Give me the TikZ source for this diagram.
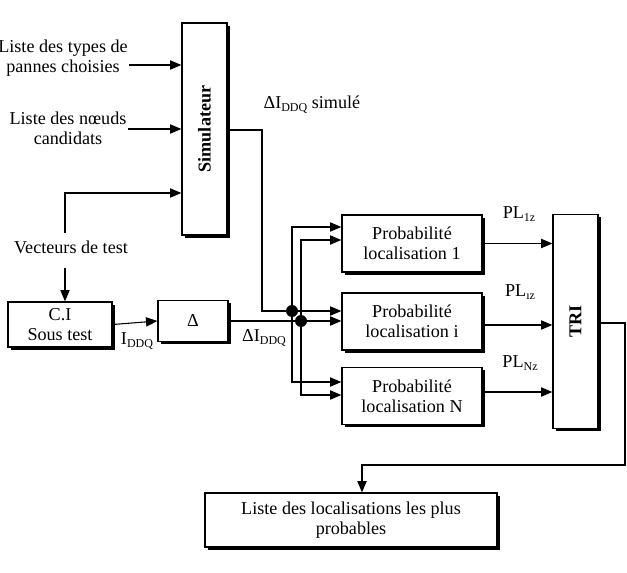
\documentclass[tikz,border=0pt]{standalone}
\usepackage{fontspec}
\setmainfont{Liberation Serif}
\usetikzlibrary{arrows.meta,shadows}
\newcommand\dsub[1]{\raisebox{-0.4ex}{\fontsize{9}{9}\selectfont #1}}
\tikzset{
  box/.style={draw,line width=1pt,fill=white,align=center,inner sep=1pt,
    drop shadow={shadow xshift=2pt,shadow yshift=-2pt,fill=black,opacity=1}},
  lbl/.style={align=center,inner sep=1pt},
  arr/.style={-{Triangle[length=8.5pt,width=7pt]}},
  wire/.style={line width=0.8pt},
  dot/.style={circle,fill=black,inner sep=0pt,minimum size=9pt}
}
\begin{document}
\begin{tikzpicture}[x=0.75pt,y=-0.75pt,font=\fontsize{13.6}{15}\selectfont]
\useasboundingbox (0,0) rectangle (627,573);
% boxes
\node[box,minimum width=33.75pt,minimum height=159pt] (sim) at (204.5,129)
  {\rotatebox{90}{\bfseries Simulateur}};
\node[box,minimum width=105pt,minimum height=42.75pt] (b1) at (412,243.5)
  {Probabilité\\localisation 1};
\node[box,minimum width=105pt,minimum height=42.75pt] (bi) at (412,321.5)
  {Probabilité\\localisation i};
\node[box,minimum width=105pt,minimum height=42.75pt] (bn) at (412,396)
  {Probabilité\\localisation N};
\node[box,minimum width=33.75pt,minimum height=160pt] (tri) at (575.5,321.5)
  {\rotatebox{90}{\bfseries TRI}};
\node[box,minimum width=219pt,minimum height=40.5pt] (bot) at (351,520)
  {Liste des localisations les plus\\probables};
\node[box,minimum width=78pt,minimum height=33.75pt] (ci) at (60,324.5)
  {C.I\\Sous test};
\node[box,minimum width=52.5pt,minimum height=30.75pt] (del) at (193,321)
  {Δ};
% texts
\node[lbl] (t1) at (63,58) {Liste des types de\\pannes choisies};
\node[lbl] (t2) at (68,128) {Liste des nœuds\\candidats};
\node[lbl] (vt) at (71,247) {Vecteurs de test};
\node[lbl,anchor=west] (lsim) at (262,105) {ΔI\dsub{DDQ} simulé};
\node[lbl] (lid) at (137,341) {I\dsub{DDQ}};
\node[lbl] (ldid) at (264,338) {ΔI\dsub{DDQ}};
\node[lbl] (pl1) at (519,214) {PL\dsub{1z}};
\node[lbl] (pli) at (520,292) {PL\dsub{ız}};
\node[lbl] (pln) at (520,363) {PL\dsub{Nz}};
% junctions
\coordinate (j1) at (292,311);
\coordinate (j2) at (301,321);
% inputs to simulator
\draw[wire,arr] (t1.east |- 0,65) -- (sim.west |- 0,65);
\draw[wire,arr] (t2.east |- 0,129) -- (sim.west |- 0,129);
\draw[wire,arr] (65,233) |- (sim.west |- 0,193);
\draw[wire,arr] (65,268) -- (ci.north -| 65,0);
% chain
\draw[wire,arr] (ci.east) -- (del.west);
\draw[wire] (sim.east |- 0,130) -| (262,311) -- (j1);
\draw[wire,arr] (j1) -- (bi.west |- j1);
\draw[wire] (del.east) -- (j2);
\draw[wire,arr] (j2) -- (bi.west |- j2);
\draw[wire,arr] (j1) |- (b1.west |- 0,227);
\draw[wire,arr] (j2) |- (b1.west |- 0,240);
\draw[wire,arr] (j1) |- (bn.west |- 0,382);
\draw[wire,arr] (j2) |- (bn.west |- 0,395);
\node[dot] at (j1) {};
\node[dot] at (j2) {};
% outputs
\draw[wire,arr] (b1.east) -- (tri.west |- b1.east);
\draw[wire,arr] (bi.east |- 0,325) -- (tri.west |- 0,325);
\draw[wire,arr] (bn.east |- 0,392) -- (tri.west |- 0,392);
\draw[wire,arr] (tri.east |- 0,323) -| (625,465) -| (bot.north -| 362,0);
\end{tikzpicture}
\end{document}
